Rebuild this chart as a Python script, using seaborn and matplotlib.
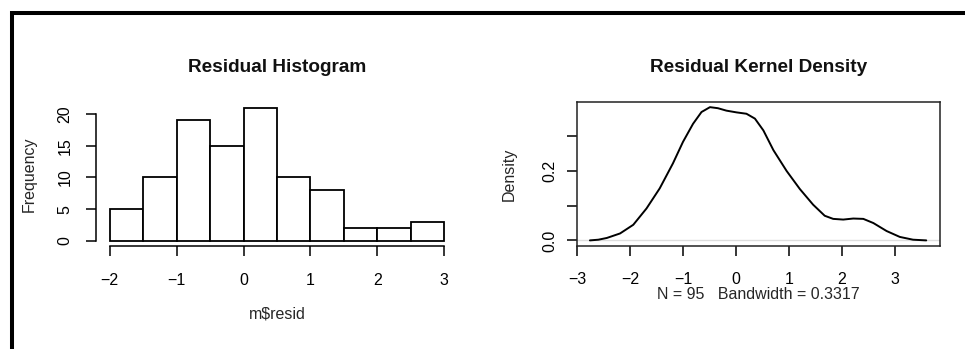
import matplotlib
matplotlib.use("Agg")
import matplotlib.pyplot as plt
from matplotlib.lines import Line2D
import seaborn as sns

# ---------------- data ----------------
bin_edges = [-2.0, -1.5, -1.0, -0.5, 0.0, 0.5, 1.0, 1.5, 2.0, 2.5, 3.0]
bin_counts = [5, 10, 19, 15, 21, 10, 8, 2, 2, 3]
hist_x_ticks = [-2, -1, 0, 1, 2, 3]
hist_y_ticks = [0, 5, 10, 15, 20]

dens_x = [-2.76, -2.60, -2.44, -2.19, -1.94, -1.69, -1.44, -1.19, -1.00, -0.81,
          -0.65, -0.49, -0.34, -0.18, 0.01, 0.20, 0.36, 0.52, 0.71, 0.96,
          1.21, 1.46, 1.68, 1.84, 2.03, 2.22, 2.41, 2.60, 2.85, 3.10,
          3.35, 3.60]
dens_y = [0.000, 0.002, 0.007, 0.020, 0.045, 0.092, 0.150, 0.222, 0.284, 0.336,
          0.370, 0.384, 0.381, 0.374, 0.369, 0.365, 0.351, 0.317, 0.260, 0.200,
          0.148, 0.103, 0.071, 0.062, 0.060, 0.063, 0.062, 0.050, 0.027, 0.010,
          0.002, 0.000]
dens_x_ticks = [-3, -2, -1, 0, 1, 2, 3]
dens_y_ticks = [0.0, 0.1, 0.2, 0.3]
dens_y_labels = ["0.0", "", "0.2", ""]
n_obs = 95
bandwidth = 0.3317

hist_title = "Residual Histogram"
dens_title = "Residual Kernel Density"
hist_xlabel = "m\\$resid"
hist_ylabel = "Frequency"
dens_ylabel = "Density"

# ---------------- style ----------------
sns.set_theme(style="ticks")
plt.rcParams['font.family'] = ['Liberation Sans', 'DejaVu Sans']
plt.rcParams['axes.edgecolor'] = 'black'
plt.rcParams['xtick.color'] = 'black'
plt.rcParams['ytick.color'] = 'black'
plt.rcParams['text.color'] = '#111111'

W, H = 965, 349
fig = plt.figure(figsize=(W / 100, H / 100), dpi=100)
fig.patch.set_facecolor('white')


def px_axes(l, t, r, b):
    return fig.add_axes([l / W, 1 - b / H, (r - l) / W, (b - t) / H])


ax1 = px_axes(96.3, 102.3, 457.7, 246.3)
ax2 = px_axes(576.7, 102.3, 940.0, 245.7)

TICK_FS = 11.5
LAB_FS = 11.5
TITLE_FS = 13.7

# ---------------- histogram ----------------
centers = [(a + b) / 2 for a, b in zip(bin_edges[:-1], bin_edges[1:])]
sns.histplot(x=centers, weights=bin_counts, bins=bin_edges, ax=ax1,
             color='white', edgecolor='black', linewidth=1.3, alpha=1.0)
ax1.set_xlim(-2.2, 3.2)
ax1.set_ylim(-0.84, 21.84)
ax1.set_xticks(hist_x_ticks)
ax1.set_yticks(hist_y_ticks)
sns.despine(ax=ax1)
ax1.spines['left'].set_bounds(0, 20)
ax1.spines['bottom'].set_bounds(-2, 3)
for s in ('left', 'bottom'):
    ax1.spines[s].set_linewidth(1.1)
ax1.tick_params(axis='x', direction='out', length=7, width=1.1, labelsize=TICK_FS, pad=12)
ax1.tick_params(axis='y', direction='out', length=7, width=1.1, labelsize=TICK_FS, pad=10.3,
                labelrotation=90)
for t in ax1.get_yticklabels():
    t.set_verticalalignment('center')
ax1.set_title(hist_title, fontsize=TITLE_FS, fontweight='bold', pad=22)
ax1.set_xlabel(hist_xlabel, fontsize=LAB_FS)
ax1.set_ylabel(hist_ylabel, fontsize=LAB_FS)
ax1.xaxis.set_label_coords(0.5, -0.470)
ax1.xaxis.label.set_verticalalignment('center')
ax1.yaxis.set_label_coords(-0.1857, 0.5007)
ax1.yaxis.label.set_verticalalignment('center')

# ---------------- density ----------------
ax2.axhline(0, color='#dddddd', lw=1.0, zorder=1)
sns.lineplot(x=dens_x, y=dens_y, ax=ax2, color='black', lw=1.4, zorder=3)
ax2.set_xlim(-3.01, 3.86)
ax2.set_ylim(-0.0153, 0.398)
ax2.set_xticks(dens_x_ticks)
ax2.set_yticks(dens_y_ticks)
ax2.set_yticklabels(dens_y_labels)
for s in ax2.spines.values():
    s.set_linewidth(1.1)
    s.set_color('#222222')
ax2.tick_params(axis='x', direction='out', length=7, width=1.1, labelsize=TICK_FS, pad=12)
ax2.tick_params(axis='y', direction='out', length=7, width=1.1, labelsize=TICK_FS, pad=7.2,
                labelrotation=90)
for t in ax2.get_yticklabels():
    t.set_verticalalignment('center')
ax2.set_title(dens_title, fontsize=TITLE_FS, fontweight='bold', pad=22)
ax2.set_xlabel(f"N = {n_obs}   Bandwidth = {bandwidth:.4f}", fontsize=LAB_FS)
ax2.set_ylabel(dens_ylabel, fontsize=LAB_FS)
ax2.xaxis.set_label_coords(0.5, -0.337)
ax2.xaxis.label.set_verticalalignment('center')
ax2.yaxis.set_label_coords(-0.1863, 0.5)
ax2.yaxis.label.set_verticalalignment('center')

# ---------------- screenshot frame ----------------
fig.add_artist(Line2D([12 / W, 12 / W, 1.0], [0.0, 1 - 13 / H, 1 - 13 / H],
                      transform=fig.transFigure, color='black', lw=2.9,
                      solid_joinstyle='miter', solid_capstyle='butt'))

fig.savefig("out.png", dpi=100)
